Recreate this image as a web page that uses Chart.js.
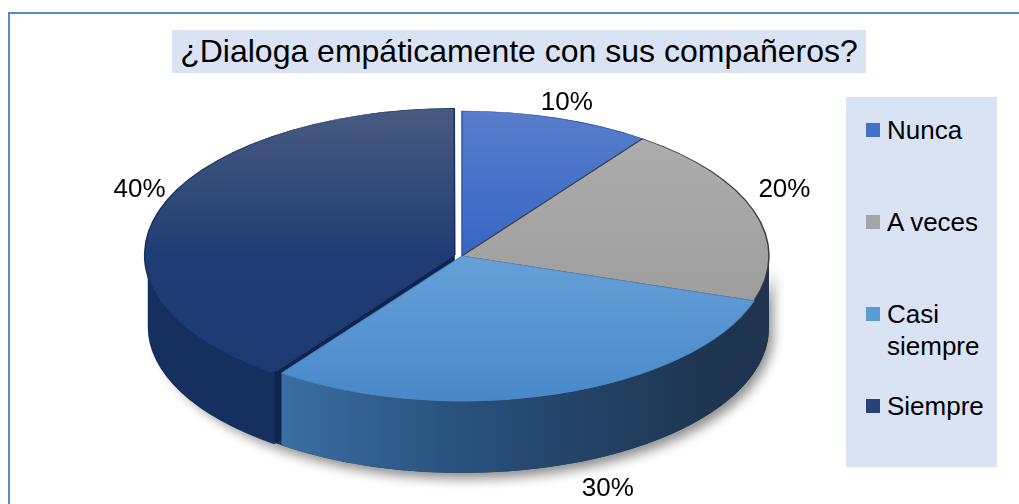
<!DOCTYPE html>
<html>
<head>
<meta charset="utf-8">
<script src="https://cdn.jsdelivr.net/npm/chart.js@4.4.1/dist/chart.umd.min.js"></script>
<style>
  body { margin: 0; width: 1019px; height: 504px; background: #fff; overflow: hidden; position: relative;
         font-family: "Liberation Sans", Arial, sans-serif; color: #000; }
  #frame { position: absolute; left: 8px; top: 12px; width: 1020px; height: 500px;
           border-top: 2px solid #5b85d6; border-left: 2px solid #5b85d6; }
  #wrap { position: absolute; left: 0; top: 0; width: 1019px; height: 504px; }
  #title { position: absolute; left: 172px; top: 30px; width: 694px; height: 43px; line-height: 43px;
           background: #dae3f3; text-align: center; font-size: 32px; white-space: nowrap; }
  #legend { position: absolute; left: 846px; top: 97px; width: 151px; height: 370px; background: #dae3f3; }
  .item { position: absolute; left: 20px; width: 128px; font-size: 26px; line-height: 32px; }
  .item .box { position: absolute; left: 0; top: 9px; width: 14px; height: 14px; }
  .item .txt { margin-left: 21px; width: 105px; }
</style>
</head>
<body>
<div id="frame"></div>
<div id="wrap"><canvas id="pieChart"></canvas></div>
<div id="title">¿Dialoga empáticamente con sus compañeros?</div>
<div id="legend"></div>
<script>
const categories = ['Nunca', 'A veces', 'Casi siempre', 'Siempre'];
const percents = [10, 20, 30, 40];
const valueLabels = ['10%', '20%', '30%', '40%'];

// colours: top face gradient (top, middle, bottom), side colour, legend marker
const topColors = [
    ['#5b7ecc', '#3566c4', '#2a5ab8'],
    ['#b0b0b0', '#a2a2a2', '#959595'],
    ['#78acdf', '#67a0d8', '#4787c8'],
    ['#4a5b80', '#1f3d74', '#1b3a72']
];
const sideColors = ['#2f4f8a', '#1e3450', null, '#15305f'];
const legendColors = ['#4472c4', '#a5a5a5', '#5b9bd5', '#264478'];

// ellipse on screen
const CX = 462, CY = 256, RX = 307, RY = 145, DEPTH = 72;

function topFill(c) {
    const chart = c.chart, a = chart.chartArea, i = c.dataIndex;
    if (!a) return topColors[i][1];
    const cy = (a.top + a.bottom) / 2, r = Math.min(a.width, a.height) / 2;
    const g = chart.ctx.createLinearGradient(0, cy - r, 0, cy + r);
    g.addColorStop(0, topColors[i][0]);
    g.addColorStop(0.5, topColors[i][1]);
    g.addColorStop(1, topColors[i][2]);
    return g;
}

function sideFill(ctx, i, x, R) {
    if (i === 2) {
        const g = ctx.createLinearGradient(x - R, 0, x + R, 0);
        g.addColorStop(0, '#4a84ba');
        g.addColorStop(0.17, '#3d72a6');
        g.addColorStop(0.5, '#28517c');
        g.addColorStop(0.88, '#1f3653');
        g.addColorStop(1, '#1d3350');
        return g;
    }
    return sideColors[i];
}

const pie3d = {
    id: 'pie3d',
    beforeDatasetsDraw(chart) {
        const ctx = chart.ctx;
        const meta = chart.getDatasetMeta(0);
        const first = meta.data[0];
        const r = first.outerRadius;
        const sx = RX / r, sy = RY / r;
        const D = DEPTH / sy;
        ctx.save();
        ctx.translate(CX, CY);
        ctx.scale(sx, sy);
        ctx.translate(-first.x, -first.y);

        // soft shadow under the wall band
        ctx.save();
        ctx.shadowColor = 'rgba(0,0,0,0.45)';
        ctx.shadowBlur = 12;
        ctx.shadowOffsetX = 4;
        ctx.shadowOffsetY = 6;
        ctx.beginPath();
        ctx.moveTo(first.x + r, first.y);
        ctx.lineTo(first.x + r, first.y + D);
        ctx.arc(first.x, first.y + D, r, 0, Math.PI);
        ctx.lineTo(first.x - r, first.y);
        ctx.arc(first.x, first.y, r, Math.PI, 0, true);
        ctx.closePath();
        ctx.fillStyle = '#1e3554';
        ctx.fill();
        ctx.restore();

        const parts = meta.data.map(el => {
            const off = (el.options.offset || 0) / 4;
            const half = (el.startAngle + el.endAngle) / 2;
            return { el, x: el.x + Math.cos(half) * off, y: el.y + Math.sin(half) * off, R: el.outerRadius };
        });

        // cut faces of exploded slices
        parts.forEach(p => {
            if (!p.el.options.offset) return;
            [p.el.startAngle, p.el.endAngle].forEach(a => {
                ctx.beginPath();
                ctx.moveTo(p.x, p.y);
                ctx.lineTo(p.x + p.R * Math.cos(a), p.y + p.R * Math.sin(a));
                ctx.lineTo(p.x + p.R * Math.cos(a), p.y + D + p.R * Math.sin(a));
                ctx.lineTo(p.x, p.y + D);
                ctx.closePath();
                ctx.fillStyle = '#0f2350';
                ctx.fill();
            });
        });

        // outer walls, front half only
        parts.forEach((p, i) => {
            const a = Math.max(p.el.startAngle, 0), b = Math.min(p.el.endAngle, Math.PI);
            if (b <= a) return;
            ctx.beginPath();
            ctx.arc(p.x, p.y, p.R, a, b);
            ctx.lineTo(p.x + p.R * Math.cos(b), p.y + D + p.R * Math.sin(b));
            ctx.arc(p.x, p.y + D, p.R, b, a, true);
            ctx.closePath();
            ctx.fillStyle = sideFill(ctx, i, p.x, p.R);
            ctx.fill();
        });
    },
    afterDatasetsDraw(chart) {
        chart.ctx.restore();
    },
    afterDraw(chart) {
        const ctx = chart.ctx;
        ctx.save();
        ctx.font = '26px "Liberation Sans", Arial, sans-serif';
        ctx.fillStyle = '#000';
        ctx.textAlign = 'center';
        ctx.textBaseline = 'middle';
        chart.getDatasetMeta(0).data.forEach((el, i) => {
            const half = (el.startAngle + el.endAngle) / 2;
            const c = Math.cos(half), s = Math.sin(half);
            // labels outside the rim; front labels sit below the wall
            const kx = s > 0 ? RX + 165 : RX + 32;
            const ky = s > 0 ? RY + 125 : RY - 9;
            ctx.fillText(valueLabels[i], CX + kx * c, CY - 24 + ky * s);
        });
        ctx.restore();
    }
};

new Chart(document.getElementById('pieChart'), {
    type: 'pie',
    data: {
        labels: categories,
        datasets: [{
            data: percents,
            backgroundColor: topFill,
            borderColor: ['#2d55a8', '#3c3c3c', '#4a86c0', '#17305e'],
            borderWidth: 1,
            offset: [0, 0, 0, 20],
            clip: false
        }]
    },
    options: {
        responsive: true,
        maintainAspectRatio: false,
        animation: false,
        events: [],
        layout: { padding: 40 },
        plugins: {
            legend: { display: false },
            title: { display: false },
            tooltip: { enabled: false }
        }
    },
    plugins: [pie3d]
});

// legend built from the same category list
const legend = document.getElementById('legend');
categories.forEach((name, i) => {
    const item = document.createElement('div');
    item.className = 'item';
    item.style.top = (17 + i * 92) + 'px';
    item.innerHTML = '<span class="box" style="background:' + legendColors[i] + '"></span><div class="txt">' + name + '</div>';
    legend.appendChild(item);
});
</script>
</body>
</html>
